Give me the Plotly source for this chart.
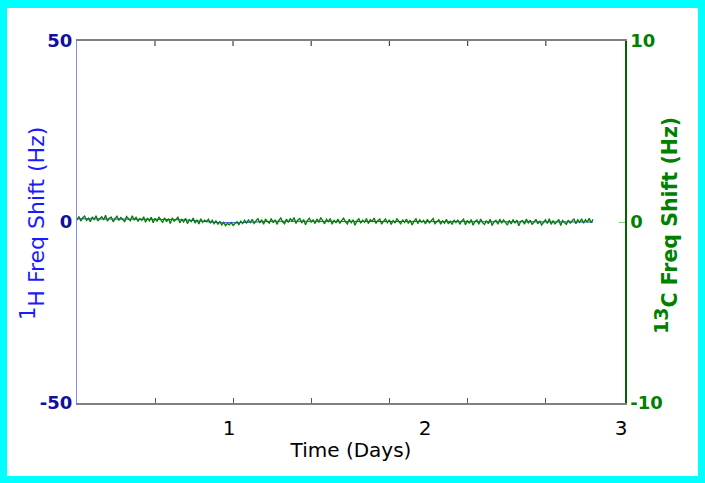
import numpy as np
import plotly.graph_objects as go

# ---- data ----
t_start_days = 0.224
t_end_days = 2.857

c13_shift_hz = [
    # early segment
    0.10, 0.30, 0.05, 0.24, 0.33, 0.08, 0.21, 0.02, 0.28, 0.14, 0.35, 0.06, 0.19, 0.29, 0.11, 0.37, 0.04,
    0.22, 0.27, 0.01, 0.18, 0.32, 0.09, 0.25, 0.15, 0.00, 0.30, 0.20, 0.07, 0.34, 0.12, 0.26, 0.03, 0.19,
    0.09, 0.29, -0.02, 0.22, 0.06, 0.27, -0.04, 0.20, 0.03, 0.28, 0.10, -0.03, 0.24, 0.01, 0.19, -0.08, 0.23,
    0.04, 0.15, 0.26, -0.05, 0.14, 0.00, 0.21, -0.09, 0.13, 0.02, 0.22, -0.06, 0.12, -0.11, 0.18, -0.02, 0.10,
    # dip near day 1
    0.02, 0.15, -0.06, 0.10, -0.09, 0.07, -0.14, 0.04, -0.17, -0.02, -0.20, -0.08,
    -0.16, -0.03, -0.19, -0.10, 0.01, -0.15, 0.05, -0.09, 0.10, -0.06, 0.12, -0.03,
    # middle
    0.15, -0.08, 0.10, 0.20, -0.05, 0.13, -0.12, 0.17, 0.02, -0.07,
    0.19, -0.04, 0.12, -0.13, 0.09, 0.22, 0.01, -0.10, 0.16, -0.02,
    0.18, 0.06, 0.24, -0.08, 0.11, 0.19, -0.06, 0.14, -0.15, 0.08,
    0.21, 0.00, 0.12, -0.09, 0.17, -0.03, 0.25, 0.07, -0.10, 0.15,
    0.02, 0.19, -0.12, 0.11, -0.05, 0.17, -0.08, 0.09, 0.21, 0.01,
    -0.11, 0.15, -0.04, 0.12, -0.18, 0.06, 0.18, -0.07, 0.10, -0.02,
    0.19, -0.09, 0.13, 0.03, 0.22, -0.08, 0.09, 0.16, -0.12, 0.05,
    0.17, -0.04, 0.12, -0.14, 0.08, -0.06, 0.19, 0.02, -0.10, 0.13,
    -0.03, 0.16, -0.08, 0.10, -0.16, 0.05, 0.18, -0.09, 0.12, -0.02,
    0.09, -0.11, 0.15, -0.05, 0.07, 0.19, -0.10, 0.03, 0.13, -0.12,
    0.06, -0.07, 0.15, -0.10, 0.04, -0.14, 0.11, -0.03,
    # late
    0.12, -0.13, 0.06, 0.16, -0.15, 0.09, -0.08, 0.14, -0.18, 0.03,
    0.11, -0.12, 0.17, -0.04, -0.14, 0.08, -0.09, 0.15, -0.19, 0.02,
    0.10, -0.13, 0.16, -0.07, 0.12, -0.02, -0.17, 0.09, -0.11, 0.14,
    -0.06, 0.11, -0.21, 0.04, 0.08, -0.12, 0.17, -0.05, 0.10, -0.14,
    0.03, 0.15, -0.10, 0.07, -0.16, -0.01, 0.12, -0.08, 0.18, -0.13,
    0.06, -0.11, 0.04, 0.14, -0.19, 0.08, -0.03, -0.13, 0.11, -0.06,
    0.07, 0.16, -0.09, 0.12, -0.02, 0.18, -0.07, 0.13, 0.01, 0.20, -0.04, 0.15,
]

h1_shift_hz = [
    0.9, 0.9, 0.9, 0.9, 0.7, 0.7, 0.6, 0.3, -0.2, -0.2, 0.1, 0.2, 0.2, 0.2, 0.2,
    0.2, 0.2, 0.2, 0.2, 0.2, 0.2, 0.1, 0.0, 0.0, 0.0, 0.0, 0.0, 0.0, 0.0, 0.0,
]

x_tick_vals = [1, 2, 3]
x_tick_text = ["1", "2", "3"]
x_minor_ticks = [0.622, 1.020, 1.419, 1.818, 2.217, 2.616]
y1_tick_vals = [-50, 0, 50]
y1_tick_text = ["-50", "0", "50"]
y2_tick_vals = [-10, 0, 10]
y2_tick_text = ["-10", "0", "10"]

x_range = [0.224, 3.02]
y1_range = [-50, 50]
y2_range = [-10, 10]

x_title = "Time (Days)"
y1_title = "<sup><span style='font-size:21px'>1</span></sup>H Freq Shift (Hz)"
y2_title = "<sup><span style='font-size:19px'>13</span></sup>C Freq Shift (Hz)"

# ---- figure ----
t_c13 = np.linspace(t_start_days, t_end_days, len(c13_shift_hz))
t_h1 = np.linspace(t_start_days, t_end_days, len(h1_shift_hz))

W, H = 705, 483
L, R, T, B = 77, 80, 41, 80
pw, ph = W - L - R, H - T - B

FONT = "DejaVu Sans"
BLUE_TXT = "#10109a"
GREEN = "#008000"

fig = go.Figure()
fig.add_trace(go.Scatter(x=t_h1, y=h1_shift_hz, mode="lines",
                         line=dict(color="#3030ff", width=1), yaxis="y", showlegend=False))
fig.add_trace(go.Scatter(x=t_c13, y=c13_shift_hz, mode="lines",
                         line=dict(color=GREEN, width=1.3), yaxis="y2", showlegend=False))

# top (mirrored) tick marks: short segments hanging from the top axis at the minor tick positions
tick_len_units = 5 / ph * (y1_range[1] - y1_range[0])
top_x, top_y = [], []
for xv in x_minor_ticks:
    top_x += [xv, xv, None]
    top_y += [y1_range[1], y1_range[1] - tick_len_units, None]
fig.add_trace(go.Scatter(x=top_x, y=top_y, mode="lines", yaxis="y",
                         line=dict(color="#444444", width=1.2),
                         showlegend=False, hoverinfo="skip", cliponaxis=False))

# cyan frame: white panel over cyan paper
fig.add_shape(type="rect", xref="paper", yref="paper", layer="below",
              x0=(7 - L) / pw, x1=(698 - L) / pw,
              y0=(H - B - 476) / ph, y1=(H - B - 8) / ph,
              fillcolor="white", line=dict(width=0))

# y-axis titles as annotations for exact placement
fig.add_annotation(text=y1_title, xref="paper", yref="paper",
                   x=(32 - L) / pw, y=(H - B - 224) / ph, xanchor="center", yanchor="middle",
                   textangle=-90, showarrow=False,
                   font=dict(family=FONT, size=22, color="#1a1aff"))
fig.add_annotation(text=y2_title, xref="paper", yref="paper",
                   x=(666 - L) / pw, y=(H - B - 226) / ph, xanchor="center", yanchor="middle",
                   textangle=-90, showarrow=False,
                   font=dict(family=FONT, size=20.5, color=GREEN, weight="bold"))

fig.update_layout(
    width=W, height=H,
    margin=dict(l=L, r=R, t=T, b=B, pad=0),
    paper_bgcolor="#00ffff",
    plot_bgcolor="white",
    font=dict(family=FONT, color="black"),
    showlegend=False,
    xaxis=dict(
        range=x_range, tickmode="array", tickvals=x_tick_vals, ticktext=x_tick_text,
        ticks="", showgrid=False, zeroline=False,
        showline=True, linecolor="#808080", linewidth=1.5, mirror=True,
        tickfont=dict(size=20, color="black"), ticklabelstandoff=6,
        title=dict(text=x_title, font=dict(size=20, color="black"), standoff=4),
        minor=dict(tickmode="array", tickvals=x_minor_ticks, ticks="inside",
                   ticklen=5, tickcolor="#555555", tickwidth=1, showgrid=False),
    ),
    yaxis=dict(
        range=y1_range, tickmode="array", tickvals=y1_tick_vals, ticktext=y1_tick_text,
        ticks="", showgrid=False, zeroline=False,
        showline=True, linecolor="#8888ff", linewidth=1,
        tickfont=dict(size=18, color=BLUE_TXT, weight="bold"),
    ),
    yaxis2=dict(
        range=y2_range, tickmode="array", tickvals=y2_tick_vals, ticktext=y2_tick_text,
        overlaying="y", side="right",
        ticks="inside", ticklen=6, tickcolor="#88c888",
        showgrid=False, zeroline=False,
        showline=True, linecolor="#006400", linewidth=1.5,
        tickfont=dict(size=18, color=GREEN, weight="bold"),
    ),
)

fig.write_html(
    "out.html",
    config={"displayModeBar": False},
    post_script="document.body.style.margin='0';document.body.style.background='#00ffff';",
)
